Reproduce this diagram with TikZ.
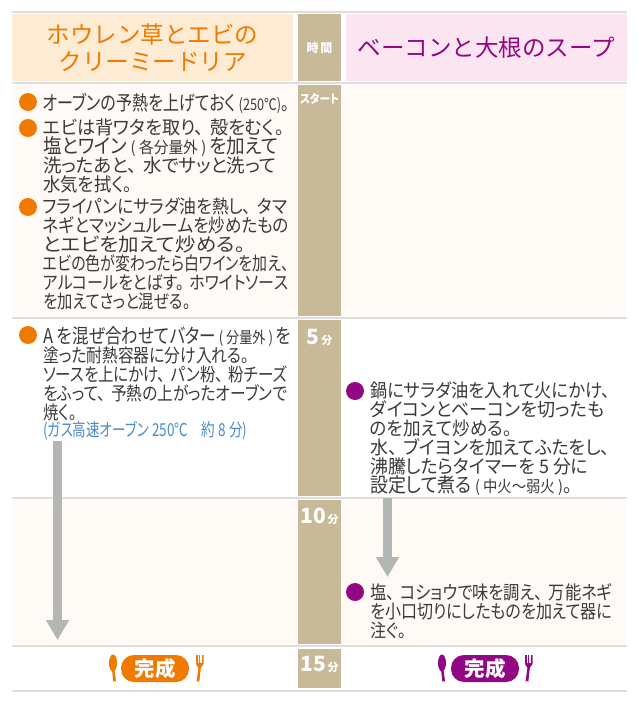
\documentclass[tikz,border=0pt]{standalone}
\usepackage{graphicx}
\usepackage{fontspec}
\setmainfont{Noto Sans CJK JP}
\newfontfamily\bodyfont[RawFeature=+palt]{Noto Sans CJK JP}
\usetikzlibrary{arrows.meta}
\usetikzlibrary{positioning}
\definecolor{dishorange}{HTML}{F07A00}
\definecolor{dishpurple}{HTML}{920783}
\definecolor{headorange}{HTML}{FDEBD3}
\definecolor{headpink}{HTML}{FBE5F0}
\definecolor{timetan}{HTML}{C8B998}
\definecolor{rowcream}{HTML}{FFFAF6}
\definecolor{rowline}{HTML}{DEDEDE}
\definecolor{arrowgrey}{HTML}{B4B6B6}
\definecolor{bodytext}{HTML}{3A3A3A}
\definecolor{noteblue}{HTML}{4A8CCB}
\newcommand{\sm}[1]{{\fontsize{13.5}{18.9}\selectfont #1}}
\newcommand{\mins}[1]{{\fontsize{21}{21}\selectfont #1}}
\newcommand{\ten}{、\hspace{6pt}}
\newcommand{\fl}[2]{\resizebox{#1pt}{\totalheight}{#2}}
\newcommand{\cutlery}[2]{%
  \begin{scope}[shift={(#1,0)}]
    %spoon
    \fill[#2] (0,663) ellipse (4 and 8.5);
    \fill[#2] (-1.2,668) -- (1.2,668) -- (3.2,682) arc (0:-180:1.4) -- cycle;
    %fork
    \fill[#2] (83.5,682) arc (180:360:1.4) -- (87.8,668) -- (90.5,664) -- (90.5,655) -- (83,655) -- (83,664) -- (85.4,668) -- cycle;
    \foreach \t in {84.9,86.8,88.7} \draw[white,line width=0.5] (\t,655) -- (\t,663);
  \end{scope}}
\tikzset{
  rowrule/.style={draw=rowline,line width=1.2},
  headcell/.style={inner sep=0,align=center,font=\fontsize{23.5}{27}\selectfont},
  timecell/.style={fill=timetan,minimum width=43,inner sep=0},
  timelabel/.style={text=white,font=\bodyfont\fontsize{11}{11}\selectfont\bfseries,inner sep=0},
  bullet/.style={circle,minimum size=18,inner sep=0},
  stepbody/.style={anchor=north west,inner sep=0,yshift=-1pt,align=left,text=bodytext,font=\bodyfont\fontsize{17}{19}\selectfont},
  donepill/.style={rounded corners=13,minimum width=68,minimum height=27,inner sep=0,text=white,font=\fontsize{20.5}{20.5}\selectfont\bfseries},
  flowarrow/.style={draw=arrowgrey,line width=9,-{Triangle[width=22,length=20]}}
}
\begin{document}
\begin{tikzpicture}[x=1pt,y=-1pt]
  \useasboundingbox (0,0) rectangle (640,701);
  \fill[white] (0,0) rectangle (640,701);
  %row backgrounds
  \fill[rowcream] (12,85) rectangle (627,317);
  \fill[rowcream] (12,500) rectangle (627,645);
  %rules
  \draw[rowrule] (12,12) -- (627,12);
  \draw[rowrule] (12,83) -- (627,83);
  \draw[rowrule] (12,318) -- (627,318);
  \draw[rowrule] (12,498) -- (627,498);
  \draw[rowrule] (12,646) -- (627,646);
  \draw[rowrule] (12,691) -- (627,691);
  %header
  \node[headcell,fill=headorange,text=dishorange,minimum width=281,minimum height=67] (dishA) at (152.5,47.5)
    {ホウレン草とエビの\\クリーミードリア};
  \node[headcell,fill=headpink,text=dishpurple,minimum width=281,minimum height=67] (dishB) at (486.5,47.5)
    {ベーコンと大根のスープ};
  %time column
  \node[timecell,minimum height=67] (time0) at (319.5,47.5) {};
  \node[timecell,minimum height=231] (time1) at (319.5,200.5) {};
  \node[timecell,minimum height=176] (time2) at (319.5,408) {};
  \node[timecell,minimum height=144] (time3) at (319.5,572) {};
  \node[timecell,minimum height=39] (time4) at (319.5,668.5) {};
  \node[timelabel,font=\bodyfont\fontsize{12}{12}\selectfont\bfseries] (timeT) at (319.5,48) {時\,間};
  \node[timelabel] (timeS) at (319.5,99) {\fl{39}{スタート}};
  \node[timelabel] (timeM) at (319.5,337) {\mins{5}\,分};
  \node[timelabel] (timeN) at (319.5,516) {\mins{10}\,分};
  \node[timelabel] (timeO) at (319.5,664) {\mins{15}\,分};
  %left steps
  \node[bullet,fill=dishorange] (a1) at (28,102) {};
  \node[stepbody] (s1) at (43,92) {\fl{246}{オーブンの予熱を上げておく\sm{ (250℃)}。}};
  \node[bullet,fill=dishorange] (a2) at (28,128) {};
  \node[stepbody] (s2) at (43,118) {\fl{246}{エビは背ワタを取り\ten 殻をむく。\hspace{5pt}}\\\fl{235}{塩とワイン\sm{ ( 各分量外 ) }を加えて}\\\fl{233}{洗ったあと\ten 水でサッと洗って}\\\fl{94}{水気を拭く。\hspace{5pt}}};
  \node[bullet,fill=dishorange] (a3) at (28,207) {};
  \node[stepbody] (s3) at (43,197) {\fl{244}{フライパンにサラダ油を熱し\ten タマ}\\\fl{246}{ネギとマッシュルームを炒めたもの}\\\fl{208}{とエビを加えて炒める。\hspace{5pt}}\\\fl{250}{エビの色が変わったら白ワインを加え、\hspace{5pt}}\\\fl{245}{アルコールをとばす。\hspace{6pt}ホワイトソース}\\\fl{152}{を加えてさっと混ぜる。\hspace{5pt}}};
  \node[bullet,fill=dishorange] (a4) at (28,335) {};
  \node[stepbody] (s4) at (43,325) {\fl{248}{A を混ぜ合わせてバター\sm{ ( 分量外 ) }を}\\\fl{211}{塗った耐熱容器に分け入れる。\hspace{5pt}}\\\fl{244}{ソースを上にかけ\ten パン粉\ten 粉チーズ}\\\fl{244}{をふって\ten 予熱の上がったオーブンで}\\\fl{38}{焼く。\hspace{5pt}}\\[-2pt]
    {\color{noteblue}\fontsize{14.5}{17}\selectfont\fl{204}{(ガス高速オーブン 250℃　約 8 分)}}};
  %right steps
  \node[bullet,fill=dishpurple] (b1) at (355,391) {};
  \node[stepbody] (t1) at (370,381) {\fl{245}{鍋にサラダ油を入れて火にかけ、\hspace{5pt}}\\\fl{234}{ダイコンとベーコンを切ったも}\\\fl{147}{のを加えて炒める。\hspace{5pt}}\\\fl{245}{水\ten ブイヨンを加えてふたをし、\hspace{5pt}}\\\fl{218}{沸騰したらタイマーを 5 分に}\\\fl{207}{設定して煮る\sm{ ( 中火〜弱火 )}。\hspace{5pt}}};
  \node[bullet,fill=dishpurple] (b2) at (355,592) {};
  \node[stepbody] (t2) at (370,582) {\fl{242}{塩\ten コショウで味を調え\ten 万能ネギ}\\\fl{242}{を小口切りにしたものを加えて器に}\\\fl{41}{注ぐ。\hspace{5pt}}};
  %arrows
  \coordinate (la) at (57.5,441);
  \coordinate (lb) at (57.5,640);
  \coordinate (ra) at (387.5,498);
  \coordinate (rb) at (387.5,577);
  \draw[flowarrow] (la) -- (lb);
  \draw[flowarrow] (ra) -- (rb);
  %finish
  \node[donepill,fill=dishorange] (doneA) at (155,668.5) {完成};
  \node[donepill,fill=dishpurple] (doneB) at (485,668.5) {完成};
  \cutlery{113}{dishorange}
  \cutlery{442}{dishpurple}
\end{tikzpicture}
\end{document}
